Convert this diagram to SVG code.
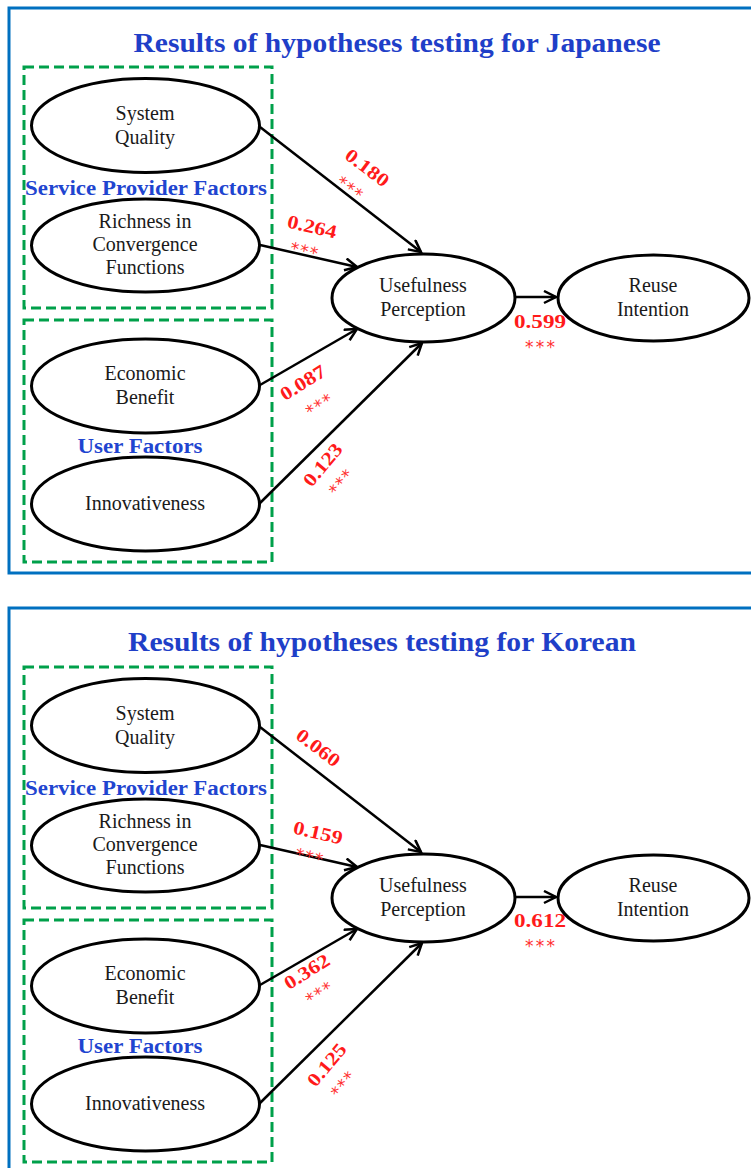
<svg xmlns="http://www.w3.org/2000/svg" width="751" height="1168" viewBox="0 0 751 1168">
  <style>
    .panel { fill: #ffffff; stroke: #0070C0; stroke-width: 3; }
    .group { fill: none; stroke: #00A04A; stroke-width: 3; stroke-dasharray: 10 5; }
    .node { fill: #ffffff; stroke: #000000; stroke-width: 3; }
    .nt { font-family: "Liberation Serif", "DejaVu Serif", serif; font-size: 20px; fill: #1a1a1a; text-anchor: middle; }
    .title { font-family: "Liberation Serif", "DejaVu Serif", serif; font-size: 28px; font-weight: bold; fill: #1F3FC8; text-anchor: middle; }
    .glabel { font-family: "Liberation Serif", "DejaVu Serif", serif; font-size: 20px; font-weight: bold; fill: #1F45D0; text-anchor: middle; }
    .coef { font-family: "Liberation Serif", "DejaVu Serif", serif; font-size: 19px; font-weight: bold; fill: #FF1A1A; text-anchor: middle; }
    .sig { font-family: "DejaVu Sans", sans-serif; font-size: 17px; fill: #FF3030; text-anchor: middle; }
    .edge { fill: none; stroke: #000000; stroke-width: 2.5; }
  </style>
  <defs>
    <marker id="arrow" markerUnits="userSpaceOnUse" markerWidth="16" markerHeight="16" refX="13" refY="7" orient="auto">
      <path d="M1,1 L13,7 L1,13" fill="none" stroke="#000000" stroke-width="2.5" stroke-linejoin="miter"/>
    </marker>
  </defs>

  <!-- ===== Japanese panel ===== -->
  <g id="panel-japanese">
    <rect class="panel" x="9" y="8" width="800" height="565"/>
    <text class="title" x="397" y="52" textLength="527" lengthAdjust="spacingAndGlyphs">Results of hypotheses testing for Japanese</text>
  </g>
  <g id="jp-service-provider-factors">
    <rect class="group" x="24" y="67" width="248" height="241"/>
    <text class="glabel" x="146" y="195" textLength="242" lengthAdjust="spacingAndGlyphs">Service Provider Factors</text>
  </g>
  <g id="jp-user-factors">
    <rect class="group" x="24" y="320" width="248" height="242"/>
    <text class="glabel" x="140" y="453" textLength="125" lengthAdjust="spacingAndGlyphs">User Factors</text>
  </g>

  <g id="jp-connectors">
    <line class="edge" x1="260" y1="127" x2="421" y2="252" marker-end="url(#arrow)"/>
    <line class="edge" x1="260" y1="245" x2="357" y2="267" marker-end="url(#arrow)"/>
    <line class="edge" x1="260" y1="385" x2="357" y2="329" marker-end="url(#arrow)"/>
    <line class="edge" x1="258" y1="505" x2="422" y2="343" marker-end="url(#arrow)"/>
    <line class="edge" x1="515" y1="297" x2="556" y2="297" marker-end="url(#arrow)"/>
    <text class="coef" x="367" y="174" transform="rotate(37 367 168)" textLength="50" lengthAdjust="spacingAndGlyphs">0.180</text>
    <text class="sig" x="352" y="195" transform="rotate(37 352 185)" textLength="28" lengthAdjust="spacing">***</text>
    <text class="coef" x="312" y="233" transform="rotate(13 312 227)" textLength="50" lengthAdjust="spacingAndGlyphs">0.264</text>
    <text class="sig" x="305" y="257" transform="rotate(13 305 247)" textLength="28" lengthAdjust="spacing">***</text>
    <text class="coef" x="303" y="389" transform="rotate(-32 303 383)" textLength="50" lengthAdjust="spacingAndGlyphs">0.087</text>
    <text class="sig" x="317" y="412" transform="rotate(-32 317 402)" textLength="28" lengthAdjust="spacing">***</text>
    <text class="coef" x="323" y="471" transform="rotate(-50 323 465)" textLength="50" lengthAdjust="spacingAndGlyphs">0.123</text>
    <text class="sig" x="338" y="490" transform="rotate(-50 338 480)" textLength="28" lengthAdjust="spacing">***</text>
    <text class="coef" x="540" y="328" textLength="52" lengthAdjust="spacingAndGlyphs">0.599</text>
    <text class="sig" x="540" y="353" textLength="30" lengthAdjust="spacing">***</text>
  </g>

  <g id="jp-system-quality">
    <ellipse class="node" cx="145.5" cy="125.5" rx="114" ry="47"/>
    <text class="nt" x="145" y="120">System</text>
    <text class="nt" x="145" y="144">Quality</text>
  </g>
  <g id="jp-richness">
    <ellipse class="node" cx="145.5" cy="245.5" rx="114" ry="46.5"/>
    <text class="nt" x="145" y="228">Richness in</text>
    <text class="nt" x="145" y="251">Convergence</text>
    <text class="nt" x="145" y="274">Functions</text>
  </g>
  <g id="jp-economic-benefit">
    <ellipse class="node" cx="145.5" cy="386" rx="114" ry="47"/>
    <text class="nt" x="145" y="380">Economic</text>
    <text class="nt" x="145" y="404">Benefit</text>
  </g>
  <g id="jp-innovativeness">
    <ellipse class="node" cx="145.5" cy="504" rx="114" ry="47"/>
    <text class="nt" x="145" y="510">Innovativeness</text>
  </g>
  <g id="jp-usefulness">
    <ellipse class="node" cx="423.5" cy="298" rx="91.5" ry="44"/>
    <text class="nt" x="423" y="292">Usefulness</text>
    <text class="nt" x="423" y="316">Perception</text>
  </g>
  <g id="jp-reuse">
    <ellipse class="node" cx="653.5" cy="298" rx="95.5" ry="43"/>
    <text class="nt" x="653" y="292">Reuse</text>
    <text class="nt" x="653" y="316">Intention</text>
  </g>

  <!-- ===== Korean panel ===== -->
  <g id="panel-korean">
    <rect class="panel" x="9" y="608" width="800" height="600"/>
    <text class="title" x="382" y="651" textLength="508" lengthAdjust="spacingAndGlyphs">Results of hypotheses testing for Korean</text>
  </g>
  <g id="kr-service-provider-factors">
    <rect class="group" x="24" y="667" width="248" height="241"/>
    <text class="glabel" x="146" y="795" textLength="242" lengthAdjust="spacingAndGlyphs">Service Provider Factors</text>
  </g>
  <g id="kr-user-factors">
    <rect class="group" x="24" y="920" width="248" height="242"/>
    <text class="glabel" x="140" y="1053" textLength="125" lengthAdjust="spacingAndGlyphs">User Factors</text>
  </g>

  <g id="kr-connectors">
    <line class="edge" x1="260" y1="727" x2="421" y2="852" marker-end="url(#arrow)"/>
    <line class="edge" x1="260" y1="845" x2="357" y2="867" marker-end="url(#arrow)"/>
    <line class="edge" x1="260" y1="985" x2="357" y2="929" marker-end="url(#arrow)"/>
    <line class="edge" x1="258" y1="1105" x2="422" y2="943" marker-end="url(#arrow)"/>
    <line class="edge" x1="515" y1="897" x2="556" y2="897" marker-end="url(#arrow)"/>
    <text class="coef" x="318" y="754" transform="rotate(37 318 748)" textLength="50" lengthAdjust="spacingAndGlyphs">0.060</text>
    <text class="coef" x="318" y="839" transform="rotate(13 318 833)" textLength="50" lengthAdjust="spacingAndGlyphs">0.159</text>
    <text class="sig" x="310" y="863" transform="rotate(13 310 853)" textLength="28" lengthAdjust="spacing">***</text>
    <text class="coef" x="307" y="978" transform="rotate(-32 307 972)" textLength="50" lengthAdjust="spacingAndGlyphs">0.362</text>
    <text class="sig" x="317" y="1000" transform="rotate(-32 317 990)" textLength="28" lengthAdjust="spacing">***</text>
    <text class="coef" x="327" y="1071" transform="rotate(-50 327 1065)" textLength="50" lengthAdjust="spacingAndGlyphs">0.125</text>
    <text class="sig" x="340" y="1092" transform="rotate(-50 340 1082)" textLength="28" lengthAdjust="spacing">***</text>
    <text class="coef" x="540" y="927" textLength="52" lengthAdjust="spacingAndGlyphs">0.612</text>
    <text class="sig" x="540" y="952" textLength="30" lengthAdjust="spacing">***</text>
  </g>

  <g id="kr-system-quality">
    <ellipse class="node" cx="145.5" cy="725.5" rx="114" ry="47"/>
    <text class="nt" x="145" y="720">System</text>
    <text class="nt" x="145" y="744">Quality</text>
  </g>
  <g id="kr-richness">
    <ellipse class="node" cx="145.5" cy="845.5" rx="114" ry="46.5"/>
    <text class="nt" x="145" y="828">Richness in</text>
    <text class="nt" x="145" y="851">Convergence</text>
    <text class="nt" x="145" y="874">Functions</text>
  </g>
  <g id="kr-economic-benefit">
    <ellipse class="node" cx="145.5" cy="986" rx="114" ry="47"/>
    <text class="nt" x="145" y="980">Economic</text>
    <text class="nt" x="145" y="1004">Benefit</text>
  </g>
  <g id="kr-innovativeness">
    <ellipse class="node" cx="145.5" cy="1104" rx="114" ry="47"/>
    <text class="nt" x="145" y="1110">Innovativeness</text>
  </g>
  <g id="kr-usefulness">
    <ellipse class="node" cx="423.5" cy="898" rx="91.5" ry="44"/>
    <text class="nt" x="423" y="892">Usefulness</text>
    <text class="nt" x="423" y="916">Perception</text>
  </g>
  <g id="kr-reuse">
    <ellipse class="node" cx="653.5" cy="898" rx="95.5" ry="43"/>
    <text class="nt" x="653" y="892">Reuse</text>
    <text class="nt" x="653" y="916">Intention</text>
  </g>
</svg>
